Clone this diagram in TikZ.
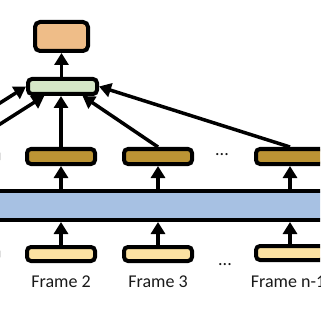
\documentclass[tikz,border=0pt]{standalone}
\usepackage{fontspec}
\setmainfont{Carlito}
\usetikzlibrary{arrows.meta,calc}
\definecolor{corange}{HTML}{EFBD88}
\definecolor{cgreen}{HTML}{D5E7C7}
\definecolor{cbrown}{HTML}{BC9434}
\definecolor{cblue}{HTML}{A7C1E3}
\definecolor{cyellow}{HTML}{FCE2A2}
\begin{document}
\begin{tikzpicture}[x=1pt,y=-1pt,
 box/.style={draw=black, line width=4pt, rounded corners=4pt, minimum width=68pt, minimum height=15pt, inner sep=0pt},
 brownbox/.style={box, fill=cbrown},
 yellowbox/.style={box, fill=cyellow, minimum height=14pt},
 arr/.style={line width=3.5pt, -{Triangle[length=12pt,width=14pt]}},
 lbl/.style={font=\fontsize{18}{20}\selectfont, inner sep=0pt, text=black!90}]
\useasboundingbox (0,0) rectangle (320,320);
\clip (0,0) rectangle (320,320);
% top boxes
\node[box, fill=corange, minimum width=53pt, minimum height=29pt, rounded corners=5pt] (out) at (61.5,36.5) {};
\node[box, fill=cgreen, minimum width=69pt] (agg) at (62.5,86.5) {};
% blue bar
\node[draw=black, line width=4pt, fill=cblue, minimum width=340pt, minimum height=29pt, inner sep=0pt] (enc) at (160,205.5) {};
% brown boxes
\node[brownbox] (b1) at (-36,156.5) {};
\node[brownbox] (b2) at (61,156.5) {};
\node[brownbox] (b3) at (158,156.5) {};
\node[brownbox] (bn) at (290,156.5) {};
\node[lbl] (bdots) at (222,155) {...};
% yellow boxes
\node[yellowbox] (y1) at (-36,254) {};
\node[yellowbox] (y2) at (61,254) {};
\node[yellowbox] (y3) at (158,254) {};
\node[yellowbox] (yn) at (290,253) {};
\node[lbl] (ydots) at (225,265) {...};
% labels
\node[lbl] (f2) at (61,282) {Frame 2};
\node[lbl] (f3) at (158,282) {Frame 3};
\node[lbl] (fn) at (288,282) {Frame n-1};
% arrows top
\draw[arr] (agg.north -| out.south) -- (out.south);
\draw[arr] (b2.north) -- (b2.north |- agg.south);
\draw[arr] (b3.north) -- ($(agg.south)!0.55!(agg.south east)$);
\draw[arr] (bn.north) -- (agg.east);
\draw[arr] (b1.north) -- ($(agg.south)!0.5!(agg.south west)$);
\coordinate (far) at (-60,141);
\draw[arr] (far) -- (agg.west);
% encoder arrows
\foreach \b in {b1,b2,b3,bn} \draw[arr] (\b |- enc.north) -- (\b.south);
\foreach \y in {y1,y2,y3,yn} \draw[arr] (\y.north) -- (\y |- enc.south);
\end{tikzpicture}
\end{document}
